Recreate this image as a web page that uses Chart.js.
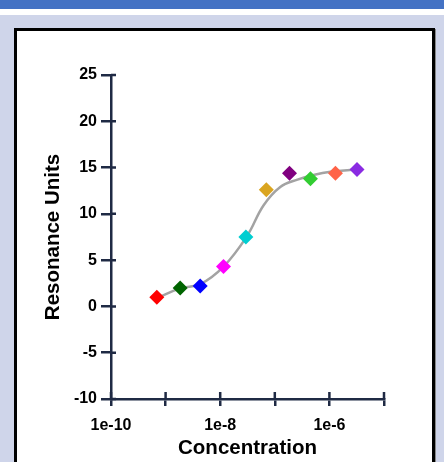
<!DOCTYPE html>
<html>
<head>
<meta charset="utf-8">
<script src="https://cdn.jsdelivr.net/npm/chart.js@4"></script>
<style>
  html, body { margin: 0; padding: 0; }
  body { width: 444px; height: 462px; background: #cfd5ea; position: relative; overflow: hidden; }
  #topbar { position: absolute; left: 0; top: 0; width: 444px; height: 9px; background: #4472c4; }
  #gap { position: absolute; left: 0; top: 9px; width: 444px; height: 6px; background: #ffffff; }
  #panel { position: absolute; left: 14px; top: 28px; width: 415px; height: 460px;
           background: #fff; border: 3px solid #000; box-shadow: 1px 1px 0 #888; }
  #wrap { position: absolute; left: 0; top: 0; width: 415px; height: 431px; }
</style>
</head>
<body>
<div id="topbar"></div>
<div id="gap"></div>
<div id="panel"><div id="wrap"><canvas id="chart"></canvas></div></div>
<script>
// Measured binding responses
const concentrations = [6.9e-10, 1.85e-9, 4.3e-9, 1.15e-8, 2.95e-8, 7.0e-8, 1.86e-7, 4.5e-7, 1.29e-6, 3.2e-6];
const responses = [1.0, 2.0, 2.2, 4.3, 7.5, 12.6, 14.4, 13.8, 14.4, 14.8];
const pointColors = ["#ff0000", "#006400", "#0000ff", "#ff00ff", "#00ced1",
                     "#daa520", "#800080", "#32cd32", "#ff6347", "#8a2be2"];

// Fitted curve
const fitX = [6.9e-10, 1.85e-9, 4.3e-9, 1.15e-8, 3.1e-8, 6.2e-8, 1.26e-7, 2.6e-7, 5.1e-7, 1.05e-6, 3.2e-6];
const fitY = [0.9, 1.95, 2.4, 4.3, 7.6, 10.9, 12.9, 13.7, 14.2, 14.55, 14.8];

// Axis ticks
const xTickValues = [1e-10, 1e-9, 1e-8, 1e-7, 1e-6, 1e-5];
const xTickLabels = ["1e-10", "", "1e-8", "", "1e-6", ""];
const yTickValues = [-10, -5, 0, 5, 10, 15, 20, 25];

const axisColor = "#1f2a44";
const fontFamily = "'Liberation Sans', Arial, sans-serif";

// Draw the inner half of each tick so they cross the axis line
const crossTicks = {
    id: "crossTicks",
    afterDraw(chart) {
        const { ctx, chartArea, scales } = chart;
        ctx.save();
        ctx.strokeStyle = axisColor;
        ctx.lineWidth = 2.5;
        ctx.beginPath();
        xTickValues.forEach(v => {
            const px = scales.x.getPixelForValue(v);
            ctx.moveTo(px, chartArea.bottom);
            ctx.lineTo(px, chartArea.bottom - 7);
        });
        yTickValues.forEach(v => {
            const py = scales.y.getPixelForValue(v);
            ctx.moveTo(chartArea.left, py);
            ctx.lineTo(chartArea.left + 5, py);
        });
        ctx.stroke();
        ctx.restore();
    }
};

const ctx = document.getElementById("chart").getContext("2d");
new Chart(ctx, {
    type: "scatter",
    data: {
        datasets: [
            {
                label: "Fit",
                data: fitX.map((x, i) => ({ x: x, y: fitY[i] })),
                showLine: true,
                borderColor: "#a3a3a3",
                borderWidth: 2.5,
                pointRadius: 0,
                tension: 0.4,
                order: 2
            },
            {
                label: "Responses",
                data: concentrations.map((x, i) => ({ x: x, y: responses[i] })),
                pointStyle: "rectRot",
                pointRadius: 7.5,
                pointBorderWidth: 0,
                backgroundColor: pointColors,
                borderColor: pointColors,
                order: 1
            }
        ]
    },
    options: {
        responsive: true,
        maintainAspectRatio: false,
        animation: false,
        events: [],
        layout: { padding: { left: 24, top: 44, right: 48, bottom: 0 } },
        plugins: { legend: { display: false }, tooltip: { enabled: false } },
        scales: {
            x: {
                type: "logarithmic",
                min: 1e-10,
                max: 1e-5,
                afterBuildTicks: scale => { scale.ticks = xTickValues.map(v => ({ value: v })); },
                afterFit: scale => { scale.height = 63; },
                ticks: {
                    autoSkip: false,
                    maxRotation: 0,
                    padding: 10,
                    color: "#000",
                    font: { family: fontFamily, size: 16, weight: "bold" },
                    callback: (value, index) => xTickLabels[index]
                },
                grid: { display: true, drawOnChartArea: false, drawTicks: true, tickLength: 7, color: axisColor, lineWidth: 2.5 },
                border: { display: true, color: axisColor, width: 2.5 },
                title: {
                    display: true,
                    text: "Concentration",
                    color: "#000",
                    padding: { top: 0, bottom: 1 },
                    font: { family: fontFamily, size: 20.5, weight: "bold" }
                }
            },
            y: {
                min: -10,
                max: 25,
                afterBuildTicks: scale => { scale.ticks = yTickValues.map(v => ({ value: v })); },
                afterFit: scale => { scale.width = 70; },
                ticks: {
                    padding: 4,
                    color: "#000",
                    font: { family: fontFamily, size: 16, weight: "bold" }
                },
                grid: { display: true, drawOnChartArea: false, drawTicks: true, tickLength: 10, color: axisColor, lineWidth: 2.5 },
                border: { display: true, color: axisColor, width: 2.5 },
                title: {
                    display: true,
                    text: "Resonance Units",
                    color: "#000",
                    padding: { top: 0, bottom: 0 },
                    font: { family: fontFamily, size: 20.5, weight: "bold" }
                }
            }
        }
    },
    plugins: [crossTicks]
});
</script>
</body>
</html>
